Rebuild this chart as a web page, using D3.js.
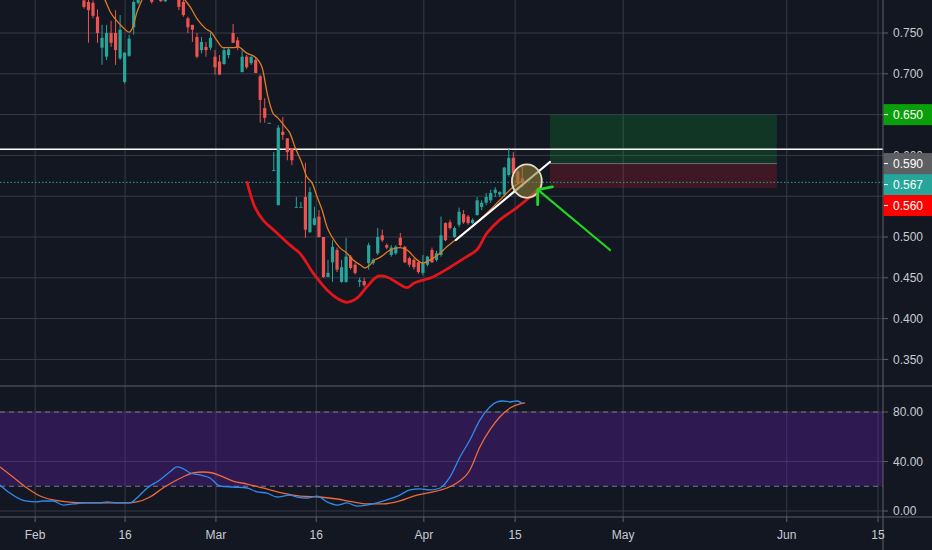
<!DOCTYPE html>
<html lang="en">
<head>
<meta charset="UTF-8">
<title>Price chart</title>
<script src="https://d3js.org/d3.v7.min.js"></script>
<style>
  body { margin: 0; background: #131722; }
  svg { display: block; font-family: "Liberation Sans", Arial, sans-serif; }
</style>
</head>
<body>
<div id="chart"></div>
<script>
// ---- candles (bar index = position in array) ----
const opens  = [0.862,0.852,0.840,0.830,0.822,0.826,0.820,0.812,0.816,0.810,0.814,0.808,0.812,0.806,0.810,0.804,0.808,0.800,
  0.790,0.788,0.787,0.770,0.732,0.721,0.750,0.750,0.719,0.690,0.722,0.757,0.787,0.800,0.808,0.800,0.796,0.797,0.789,0.795,0.804,
  0.798,0.788,0.768,0.760,0.745,0.729,0.733,0.732,0.721,0.715,0.712,0.723,0.750,0.741,0.702,0.721,0.713,0.717,0.697,0.658,0.640,
  0.582,0.539,0.629,0.621,0.609,0.537,0.537,0.549,0.506,0.515,0.525,0.500,0.451,0.469,0.484,0.445,0.445,0.476,0.466,0.445,0.446,
  0.468,0.468,0.480,0.502,0.490,0.478,0.480,0.499,0.488,0.474,0.472,0.469,0.456,0.466,0.484,0.472,0.478,0.517,0.518,0.500,0.515,
  0.528,0.525,0.517,0.527,0.537,0.542,0.545,0.554,0.552,0.552,0.576,0.597,0.580,0.572];
const highs  = [0.870,0.858,0.846,0.838,0.830,0.834,0.826,0.820,0.822,0.818,0.820,0.816,0.818,0.814,0.816,0.812,0.814,0.806,
  0.795,0.792,0.790,0.779,0.760,0.760,0.765,0.778,0.772,0.726,0.748,0.790,0.802,0.812,0.818,0.806,0.806,0.802,0.806,0.808,0.810,
  0.804,0.791,0.770,0.760,0.750,0.745,0.739,0.750,0.729,0.723,0.733,0.733,0.761,0.745,0.729,0.723,0.721,0.720,0.699,0.670,0.640,
  0.604,0.637,0.647,0.621,0.609,0.549,0.543,0.591,0.561,0.537,0.533,0.500,0.472,0.496,0.487,0.472,0.499,0.478,0.468,0.450,0.450,
  0.493,0.474,0.511,0.509,0.492,0.490,0.490,0.505,0.489,0.476,0.474,0.471,0.478,0.477,0.487,0.483,0.525,0.518,0.521,0.513,0.536,
  0.533,0.527,0.523,0.549,0.545,0.554,0.558,0.561,0.556,0.586,0.608,0.604,0.582,0.586];
const lows   = [0.848,0.836,0.826,0.818,0.812,0.816,0.808,0.804,0.806,0.802,0.804,0.800,0.802,0.800,0.800,0.798,0.797,0.794,
  0.780,0.738,0.768,0.738,0.711,0.717,0.733,0.711,0.717,0.688,0.721,0.748,0.785,0.796,0.802,0.786,0.792,0.788,0.788,0.792,0.796,
  0.778,0.770,0.750,0.739,0.719,0.725,0.721,0.729,0.699,0.699,0.711,0.719,0.738,0.729,0.702,0.706,0.711,0.701,0.640,0.640,0.640,
  0.582,0.539,0.619,0.594,0.588,0.537,0.537,0.499,0.505,0.514,0.499,0.450,0.451,0.445,0.457,0.444,0.444,0.460,0.454,0.439,0.439,
  0.460,0.466,0.478,0.494,0.485,0.476,0.478,0.488,0.468,0.463,0.460,0.455,0.453,0.464,0.468,0.470,0.476,0.495,0.509,0.499,0.512,
  0.516,0.515,0.516,0.526,0.533,0.539,0.542,0.549,0.549,0.549,0.574,0.574,0.564,0.561];
const closes = [0.852,0.840,0.830,0.822,0.826,0.820,0.812,0.816,0.810,0.814,0.808,0.812,0.806,0.810,0.804,0.808,0.800,0.797,
  0.782,0.778,0.771,0.750,0.744,0.750,0.738,0.729,0.754,0.726,0.743,0.788,0.800,0.808,0.812,0.788,0.800,0.789,0.800,0.804,0.798,
  0.782,0.772,0.757,0.754,0.721,0.739,0.729,0.744,0.708,0.699,0.729,0.730,0.738,0.733,0.721,0.708,0.721,0.701,0.668,0.646,0.640,
  0.582,0.634,0.625,0.604,0.594,0.537,0.537,0.509,0.555,0.523,0.500,0.451,0.456,0.488,0.460,0.463,0.476,0.462,0.456,0.447,0.441,
  0.490,0.472,0.500,0.496,0.487,0.487,0.488,0.490,0.469,0.466,0.463,0.457,0.469,0.476,0.469,0.480,0.502,0.496,0.511,0.511,0.531,
  0.518,0.517,0.521,0.545,0.542,0.549,0.554,0.558,0.555,0.585,0.597,0.578,0.566,0.567];

// ---- orange moving average (bar, price) ----
const maBars = [20.5,22.7,23.8,25.1,26.6,28.0,28.8,29.7,30.8,32.6,37.0,40.4,41.5,43.2,44.8,46.3,47.4,48.8,51.0,52.1,54.1,55.8,
  57.4,58.7,59.8,60.9,62.5,63.6,64.7,66.2,67.3,68.5,69.6,70.7,71.8,72.9,74.6,76.2,77.5,79.1,80.2,81.3,82.4,83.5,85.7,87.9,
  89.5,91.7,93.0,94.6,96.3,98.3,100.5,103.4,106.7,110.0,112.7,115.4];
const maVals = [0.808,0.790,0.776,0.766,0.757,0.751,0.757,0.775,0.790,0.815,0.821,0.790,0.782,0.766,0.756,0.750,0.741,0.732,
  0.732,0.733,0.725,0.721,0.708,0.672,0.652,0.646,0.635,0.627,0.610,0.591,0.574,0.566,0.549,0.533,0.512,0.500,0.487,0.480,
  0.472,0.466,0.462,0.466,0.472,0.475,0.484,0.487,0.484,0.472,0.468,0.472,0.478,0.488,0.498,0.511,0.527,0.545,0.560,0.570];

// ---- hand drawn red curve (bar, price) ----
const curveBars = [54.1,55.8,57.6,60.7,63.6,65.8,68.7,71.8,74.0,76.2,78.4,80.6,83.1,85.0,87.3,89.5,91.2,95.2,99.0,102.7,
  104.9,107.2,110.0,113.8,117.3,118.9];
const curveVals = [0.567,0.537,0.521,0.505,0.490,0.480,0.456,0.435,0.425,0.420,0.425,0.439,0.452,0.451,0.444,0.438,0.444,
  0.451,0.463,0.476,0.484,0.505,0.521,0.536,0.552,0.561];

// ---- stochastic RSI (bar, value) ----
const kBars = [-0.6,1.6,5.0,7.6,8.9,11.2,13.4,15.6,18.7,21.5,23.1,25.3,28.2,29.7,32.0,34.8,37.0,38.6,39.7,41.5,43.7,45.9,48.1,
  51.0,54.1,56.3,58.5,60.7,63.6,65.1,67.3,69.6,71.8,74.0,76.2,78.4,80.6,82.8,85.0,87.9,90.1,92.3,94.6,96.8,99.0,101.2,103.4,
  105.6,107.8,109.4,110.7,112.3,113.8,115.0];
const kVals = [21.0,14.5,8.1,7.3,8.1,8.1,4.8,5.7,6.5,6.5,7.3,6.5,6.5,10.5,18.6,25.1,31.5,35.6,34.7,30.7,29.1,26.7,20.2,19.4,
  18.6,15.4,14.5,11.3,12.9,11.3,10.5,12.1,7.3,4.8,6.5,4.0,4.8,6.5,8.9,12.9,17.0,17.8,17.0,18.6,27.5,43.6,57.4,73.5,84.0,88.1,
  88.9,88.1,88.9,87.0];
const dBars = [-0.6,2.3,5.4,8.3,11.2,14.2,18.7,23.1,27.5,29.7,32.6,35.5,37.7,39.9,42.1,44.3,46.5,48.8,51.0,54.1,57.6,62.0,65.8,
  70.2,74.0,77.5,80.6,84.2,87.9,91.7,95.2,98.3,100.5,103.4,105.6,107.8,110.0,112.3,114.5,115.6];
const dVals = [35.6,27.5,18.6,12.1,8.9,7.3,6.5,6.5,6.5,7.3,11.3,18.6,23.4,27.5,30.7,31.5,30.7,27.5,24.2,21.8,18.6,14.5,12.1,
  11.3,9.7,7.3,5.7,5.7,8.1,12.9,15.4,18.6,22.6,33.1,51.7,65.5,76.0,83.2,86.5,87.3];

// ---- drawings ----
const resistance = 0.6075;
const lastPrice = 0.567;
const trendBars = [100.3, 121.1], trendVals = [0.4963, 0.5919];
const posBars = [121.1, 171.3];
const posEntry = 0.590, posTarget = 0.650, posStop = 0.560;
const circleBar = 116.0, circleVal = 0.5685, circleBars = 3.3, circleSpan = 0.0205;
const arrowBars = [134.4, 118.4], arrowVals = [0.4841, 0.5580];

// ---- axes ----
const priceTicks = [0.35, 0.40, 0.45, 0.50, 0.55, 0.60, 0.65, 0.70, 0.75, 0.80];
const oscTicks = [0, 40, 80];
const oscBand = [20, 80];
const markValues = [0.650, 0.590, 0.567, 0.560];
const timeTickBars = [7.2, 27.1, 47.2, 69.4, 93.2, 113.4, 137.3, 173.5, 193.7];
const timeTickLabels = ["Feb", "16", "Mar", "16", "Apr", "15", "May", "Jun", "15"];

const width = 932, height = 550;
const plotRight = 883, priceBottom = 386, oscBottom = 517;
const markColors = ["#0a9e0a", "#5d5f63", "#26a69a", "#ff0000"];
const gridColor = "#373b47", borderColor = "#5d606b", textColor = "#c8cbd2";

const x = d3.scaleLinear().domain([0, 194.8]).range([2.6, plotRight]);
const y = d3.scaleLinear().domain([0.5, 0.75]).range([237, 33]);
const yo = d3.scaleLinear().domain([0, 80]).range([511, 412]);

const svg = d3.select("#chart").append("svg")
  .attr("width", width).attr("height", height);

svg.append("rect").attr("width", width).attr("height", height).attr("fill", "#131722");

const defs = svg.append("defs");
defs.append("clipPath").attr("id", "clip-price")
  .append("rect").attr("x", 0).attr("y", 0).attr("width", plotRight).attr("height", priceBottom);
defs.append("clipPath").attr("id", "clip-osc")
  .append("rect").attr("x", 0).attr("y", priceBottom).attr("width", plotRight).attr("height", oscBottom - priceBottom);

// grid
const grid = svg.append("g");
grid.selectAll(".vg").data(timeTickBars).enter().append("line")
  .attr("x1", d => x(d)).attr("x2", d => x(d)).attr("y1", 0).attr("y2", oscBottom)
  .attr("stroke", gridColor).attr("stroke-width", 1);
grid.selectAll(".hg").data(priceTicks).enter().append("line")
  .attr("x1", 0).attr("x2", plotRight).attr("y1", d => y(d)).attr("y2", d => y(d))
  .attr("stroke", gridColor);
grid.selectAll(".og").data(oscTicks).enter().append("line")
  .attr("x1", 0).attr("x2", plotRight).attr("y1", d => yo(d)).attr("y2", d => yo(d))
  .attr("stroke", gridColor);

// ---- price pane ----
const price = svg.append("g").attr("clip-path", "url(#clip-price)");

// position box
price.append("rect")
  .attr("x", x(posBars[0])).attr("width", x(posBars[1]) - x(posBars[0]))
  .attr("y", y(posTarget)).attr("height", y(posEntry) - y(posTarget))
  .attr("fill", "rgba(20,170,50,0.22)");
price.append("rect")
  .attr("x", x(posBars[0])).attr("width", x(posBars[1]) - x(posBars[0]))
  .attr("y", y(posEntry)).attr("height", y(posStop) - y(posEntry))
  .attr("fill", "rgba(220,30,50,0.22)");
price.append("line")
  .attr("x1", x(posBars[0])).attr("x2", x(posBars[1]))
  .attr("y1", y(posEntry)).attr("y2", y(posEntry))
  .attr("stroke", "#6b6e78");

// last price dotted line
price.append("line")
  .attr("x1", 0).attr("x2", plotRight).attr("y1", y(lastPrice)).attr("y2", y(lastPrice))
  .attr("stroke", "#26a69a").attr("stroke-dasharray", "1.5,2");

// resistance line
price.append("line")
  .attr("x1", 0).attr("x2", plotRight).attr("y1", y(resistance)).attr("y2", y(resistance))
  .attr("stroke", "#ffffff").attr("stroke-width", 1.6);

// candles
const candles = price.selectAll(".candle").data(d3.range(opens.length)).enter()
  .append("g").attr("class", "candle");
const candleColor = i => closes[i] >= opens[i] ? "#26a69a" : "#ef5350";
candles.append("line")
  .attr("x1", i => x(i)).attr("x2", i => x(i))
  .attr("y1", i => y(highs[i])).attr("y2", i => y(lows[i]))
  .attr("stroke", candleColor).attr("stroke-width", 1);
candles.append("rect")
  .attr("x", i => x(i) - 1.6).attr("width", 3.2)
  .attr("y", i => y(Math.max(opens[i], closes[i])))
  .attr("height", i => Math.max(1, Math.abs(y(opens[i]) - y(closes[i]))))
  .attr("fill", candleColor);

// moving average
price.append("path")
  .datum(d3.zip(maBars, maVals))
  .attr("fill", "none").attr("stroke", "#e07b24").attr("stroke-width", 1.3)
  .attr("d", d3.line().x(d => x(d[0])).y(d => y(d[1])).curve(d3.curveMonotoneX));

// red hand curve
price.append("path")
  .datum(d3.zip(curveBars, curveVals))
  .attr("fill", "none").attr("stroke", "#e3151b").attr("stroke-width", 2.8)
  .attr("stroke-linecap", "round")
  .attr("d", d3.line().x(d => x(d[0])).y(d => y(d[1])).curve(d3.curveCatmullRom));

// trend line
price.append("line")
  .attr("x1", x(trendBars[0])).attr("y1", y(trendVals[0]))
  .attr("x2", x(trendBars[1])).attr("y2", y(trendVals[1]))
  .attr("stroke", "#ffffff").attr("stroke-width", 2.2).attr("stroke-linecap", "round");

// highlight circle
price.append("ellipse")
  .attr("cx", x(circleBar)).attr("cy", y(circleVal))
  .attr("rx", x(circleBar + circleBars) - x(circleBar))
  .attr("ry", y(circleVal - circleSpan) - y(circleVal))
  .attr("fill", "rgba(140,125,55,0.6)")
  .attr("stroke", "#e6dcc0").attr("stroke-width", 1.8);

// green arrow
const ax0 = x(arrowBars[0]), ay0 = y(arrowVals[0]);
const ax1 = x(arrowBars[1]), ay1 = y(arrowVals[1]);
const ang = Math.atan2(ay0 - ay1, ax0 - ax1);
const headLen = 15, spread = 0.88;
const arrow = price.append("g")
  .attr("stroke", "#1fd81f").attr("stroke-width", 2.2).attr("stroke-linecap", "round")
  .attr("stroke-linejoin", "round").attr("fill", "none");
arrow.append("line").attr("x1", ax0).attr("y1", ay0).attr("x2", ax1).attr("y2", ay1);
arrow.append("polyline").attr("stroke-width", 2.8).attr("points", [
  [ax1 + headLen * Math.cos(ang - spread), ay1 + headLen * Math.sin(ang - spread)],
  [ax1, ay1],
  [ax1 + headLen * Math.cos(ang + spread), ay1 + headLen * Math.sin(ang + spread)]
].map(p => p.join(",")).join(" "));

// ---- oscillator pane ----
const osc = svg.append("g").attr("clip-path", "url(#clip-osc)");
osc.append("rect")
  .attr("x", 0).attr("width", plotRight)
  .attr("y", yo(oscBand[1])).attr("height", yo(oscBand[0]) - yo(oscBand[1]))
  .attr("fill", "rgba(110,30,190,0.3)");
osc.selectAll(".band").data(oscBand).enter().append("line")
  .attr("x1", 0).attr("x2", plotRight).attr("y1", d => yo(d)).attr("y2", d => yo(d))
  .attr("stroke", "#787b86").attr("stroke-dasharray", "5,4");
const oscLine = d3.line().x(d => x(d[0])).y(d => yo(d[1])).curve(d3.curveMonotoneX);
osc.append("path").datum(d3.zip(dBars, dVals))
  .attr("fill", "none").attr("stroke", "#ec6a3c").attr("stroke-width", 1.3).attr("d", oscLine);
osc.append("path").datum(d3.zip(kBars, kVals))
  .attr("fill", "none").attr("stroke", "#2d8cf0").attr("stroke-width", 1.3).attr("d", oscLine);

// ---- borders ----
svg.append("line").attr("x1", 0).attr("x2", width).attr("y1", priceBottom).attr("y2", priceBottom)
  .attr("stroke", borderColor);
svg.append("line").attr("x1", 0).attr("x2", width).attr("y1", oscBottom).attr("y2", oscBottom)
  .attr("stroke", borderColor);
svg.append("line").attr("x1", plotRight).attr("x2", plotRight).attr("y1", 0).attr("y2", height)
  .attr("stroke", borderColor);

// ---- right axis ----
const axis = svg.append("g").attr("font-size", 12).attr("fill", textColor);
const fmtP = d3.format(".3f"), fmtO = d3.format(".2f");

// price marks, pushed down when they would overlap
const boxH = 21;
let lastBottom = -Infinity;
const marks = markValues.map(v => {
  let cy = y(v);
  if (cy - boxH / 2 < lastBottom) cy = lastBottom + boxH / 2;
  lastBottom = cy + boxH / 2;
  return { v, cy };
});
// a tick label is left out when the marks cover it completely
const covered = (top, bottom) => {
  let t = top;
  marks.slice().sort((a, b) => a.cy - b.cy).forEach(m => {
    if (m.cy - boxH / 2 <= t && m.cy + boxH / 2 > t) t = m.cy + boxH / 2;
  });
  return t >= bottom;
};

priceTicks.filter(d => y(d) > 8 && y(d) < priceBottom - 8).forEach(d => {
  axis.append("line").attr("x1", plotRight).attr("x2", plotRight + 5)
    .attr("y1", y(d)).attr("y2", y(d)).attr("stroke", borderColor);
  if (!covered(y(d) - 5, y(d) + 5)) {
    axis.append("text").attr("x", plotRight + 10).attr("y", y(d)).attr("dy", "0.35em").text(fmtP(d));
  }
});
oscTicks.forEach(d => {
  axis.append("line").attr("x1", plotRight).attr("x2", plotRight + 5)
    .attr("y1", yo(d)).attr("y2", yo(d)).attr("stroke", borderColor);
  axis.append("text").attr("x", plotRight + 10).attr("y", yo(d)).attr("dy", "0.35em").text(fmtO(d));
});

marks.forEach((m, k) => {
  axis.append("rect").attr("x", plotRight + 0.5).attr("y", m.cy - boxH / 2)
    .attr("width", width - plotRight).attr("height", boxH).attr("fill", markColors[k]);
  axis.append("line").attr("x1", plotRight + 1).attr("x2", plotRight + 5)
    .attr("y1", m.cy).attr("y2", m.cy).attr("stroke", "#ffffff");
  axis.append("text").attr("x", plotRight + 10).attr("y", m.cy).attr("dy", "0.35em")
    .attr("fill", "#ffffff").text(fmtP(m.v));
});

// ---- time axis ----
const tAxis = svg.append("g").attr("font-size", 12).attr("fill", textColor).attr("text-anchor", "middle");
timeTickBars.forEach((b, k) => {
  tAxis.append("line").attr("x1", x(b)).attr("x2", x(b)).attr("y1", oscBottom).attr("y2", oscBottom + 5)
    .attr("stroke", borderColor);
  tAxis.append("text").attr("x", x(b)).attr("y", 535).attr("dy", "0.35em").text(timeTickLabels[k]);
});
</script>
</body>
</html>
